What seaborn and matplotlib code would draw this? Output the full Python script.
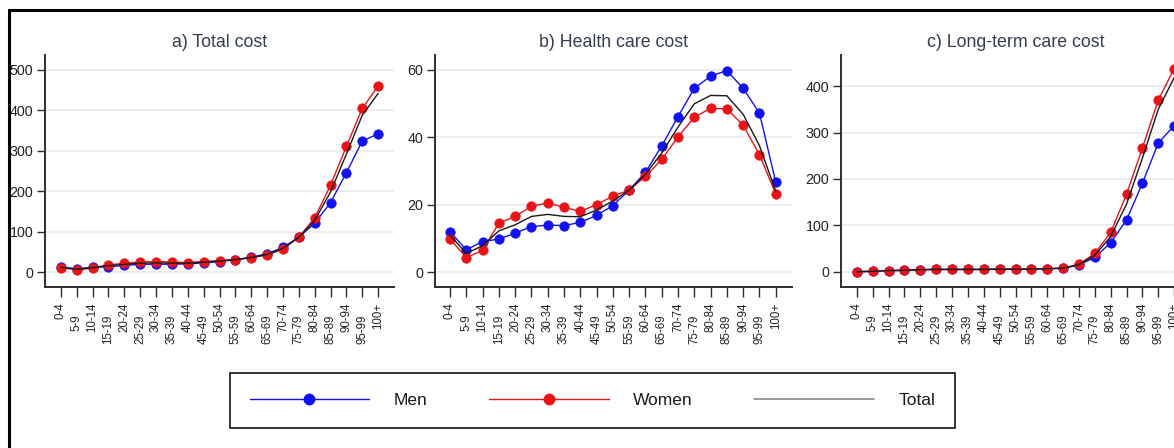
import numpy as np
import pandas as pd
import matplotlib
matplotlib.use("Agg")
import matplotlib.pyplot as plt
from matplotlib.lines import Line2D
import seaborn as sns

# Age groups on the x axis
age_groups = ["0-4", "5-9", "10-14", "15-19", "20-24", "25-29", "30-34", "35-39",
              "40-44", "45-49", "50-54", "55-59", "60-64", "65-69", "70-74", "75-79",
              "80-84", "85-89", "90-94", "95-99", "100+"]

# a) Total cost per age group
total_men = [12.5, 8, 12, 13, 16.5, 19, 19.4, 19.3, 20.2, 22.8, 25.7, 30.8, 36.6,
             45.4, 61, 86, 121, 172, 246, 324, 342]
total_women = [10.3, 5.8, 9.4, 18, 21.5, 25, 26, 24.7, 23.5, 26, 28.5, 30.8, 35.4,
               42, 56.6, 86, 134, 215, 311, 405, 460]
total_all = [11.5, 7, 10.8, 15.7, 19, 22, 22.6, 22, 21.9, 24.4, 27.1, 30.8, 36,
             43.5, 58.8, 86, 128, 198, 292, 388, 442]

# b) Health care cost per age group
hc_men = [12.0, 6.6, 9.0, 9.8, 11.5, 13.5, 13.9, 13.8, 14.7, 16.8, 19.7, 24.3, 29.6,
          37.4, 46.1, 54.5, 58.1, 59.8, 54.5, 47.2, 26.7]
hc_women = [9.8, 4.3, 6.4, 14.5, 16.5, 19.5, 20.5, 19.2, 18.0, 20.0, 22.5, 24.3, 28.4,
            33.4, 40.1, 45.9, 48.6, 48.4, 43.6, 34.8, 23.2]
hc_all = [11.0, 5.5, 7.8, 12.2, 14.0, 16.5, 17.1, 16.5, 16.4, 18.4, 21.1, 24.3, 29.0,
          35.3, 43.0, 49.9, 52.4, 52.3, 46.8, 37.5, 24.0]

# c) Long-term care cost per age group
ltc_men = [0.5, 1.5, 3, 3.5, 5, 5.5, 5.5, 5.5, 5.5, 6, 6, 6.5, 7, 8, 15, 31.5, 63,
           112, 191, 277, 315]
ltc_women = [0.5, 1.5, 3, 3.5, 5, 5.5, 5.5, 5.5, 5.5, 6, 6, 6.5, 7, 8.5, 16.5, 40, 85,
             167, 267, 370, 437]
ltc_all = [0.5, 1.5, 3, 3.5, 5, 5.5, 5.5, 5.5, 5.5, 6, 6, 6.5, 7, 8.2, 15.8, 36, 76,
           146, 245, 350, 418]

titles = ["a) Total cost", "b) Health care cost", "c) Long-term care cost"]
yticks = [[0, 100, 200, 300, 400, 500], [0, 20, 40, 60], [0, 100, 200, 300, 400]]
ylims = [(-37, 537), (-4.45, 64.4), (-32.3, 466.7)]

BLUE = "#1212f0"
RED = "#e81418"
TOTAL = "#1a1a1a"

sns.set_theme(style="white")
plt.rcParams["font.family"] = ["Liberation Sans", "DejaVu Sans"]

W, H = 1174, 448
fig = plt.figure(figsize=(W / 100, H / 100), dpi=100)

# axes boxes in pixels: left, top, right, bottom
boxes = [(45, 55, 394, 287), (435, 55, 792, 287), (841, 55, 1190, 287)]
xlims = [(-1.0, 21.0), (-0.92, 21.0), (-1.0, 21.0)]

panels = [
    (total_men, total_women, total_all),
    (hc_men, hc_women, hc_all),
    (ltc_men, ltc_women, ltc_all),
]

x = np.arange(len(age_groups))

for i, (men, women, tot) in enumerate(panels):
    l, t, r, b = boxes[i]
    ax = fig.add_axes([l / W, 1 - b / H, (r - l) / W, (b - t) / H])
    df = pd.DataFrame({"x": x, "Men": men, "Women": women, "Total": tot})

    ax.set_ylim(*ylims[i])
    ax.set_xlim(*xlims[i])
    for yv in yticks[i]:
        ax.axhline(yv, color="#ececec", lw=1.3, zorder=0)

    sns.lineplot(data=df, x="x", y="Men", ax=ax, color=BLUE, lw=1.0,
                 marker="o", markersize=6.8, markeredgecolor=BLUE,
                 markeredgewidth=0.5, zorder=3)
    sns.lineplot(data=df, x="x", y="Women", ax=ax, color=RED, lw=1.0,
                 marker="o", markersize=6.8, markeredgecolor=RED,
                 markeredgewidth=0.5, zorder=4)
    sns.lineplot(data=df, x="x", y="Total", ax=ax, color=TOTAL, lw=1.0, zorder=5)

    ax.set_xlabel("")
    ax.set_ylabel("")
    ax.set_title(titles[i], fontsize=12.8, color="#353d50", pad=6)

    ax.set_yticks(yticks[i])
    ax.set_yticklabels([str(v) for v in yticks[i]])
    ax.set_xticks(x)
    ax.set_xticklabels(age_groups, rotation=90, va="top", ha="center")

    for side in ["top", "right"]:
        ax.spines[side].set_visible(False)
    for side in ["left", "bottom"]:
        ax.spines[side].set_color("#2e2e2e")
        ax.spines[side].set_linewidth(1.4)

    ax.tick_params(axis="y", length=5.8, width=1.0, color="#2e2e2e", pad=2.5,
                   labelsize=10.3, labelcolor="#222222", left=True)
    ax.tick_params(axis="x", length=7, width=1.0, color="#2e2e2e", pad=4.3,
                   labelsize=8.3, labelcolor="#222222", bottom=True)
    # alternate labels are staggered downward
    for k, tick in enumerate(ax.xaxis.get_major_ticks()):
        if k % 2 == 1:
            tick.set_pad(13)

# legend box below the panels
handles = [
    Line2D([], [], color=BLUE, lw=1.0, marker="o", markersize=7.5,
           markeredgecolor=BLUE),
    Line2D([], [], color=RED, lw=1.0, marker="o", markersize=7.5,
           markeredgecolor=RED),
    Line2D([], [], color="#888888", lw=1.2),
]
leg = fig.legend(handles, ["Men", "Women", "Total"], ncol=3, loc="center",
                 bbox_to_anchor=((229 + 956) / 2 / W, 1 - (372 + 429) / 2 / H),
                 fontsize=12.5, handlelength=6.9, handletextpad=1.4,
                 columnspacing=3.55, borderpad=1.15, fancybox=False,
                 framealpha=1, edgecolor="black")
leg.get_frame().set_linewidth(1.1)
for txt in leg.get_texts():
    txt.set_color("#1a1a1a")

# outer frame lines along the top and left edge
x0, y0 = 8.5 / W, 1 - 10.5 / H
fig.add_artist(Line2D([x0, 1.01], [y0, y0], transform=fig.transFigure,
                      color="black", lw=2.2, zorder=20))
fig.add_artist(Line2D([x0, x0], [y0, -0.01], transform=fig.transFigure,
                      color="black", lw=2.2, zorder=20))

fig.savefig("out.png", dpi=100, facecolor="white")
